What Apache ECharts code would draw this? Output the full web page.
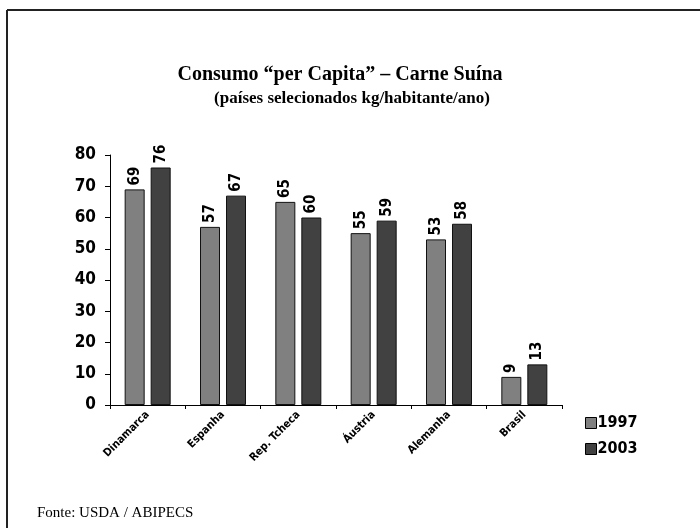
<!DOCTYPE html>
<html>
<head>
<meta charset="utf-8">
<script src="https://cdn.jsdelivr.net/npm/echarts@6/dist/echarts.min.js"></script>
<style>
html, body { margin: 0; padding: 0; background: #fff; }
#main { width: 700px; height: 528px; }
</style>
</head>
<body>
<div id="main"></div>
<script>
var paises = ['Dinamarca', 'Espanha', 'Rep. Tcheca', 'Áustria', 'Alemanha', 'Brasil'];
var v1997 = [69, 57, 65, 55, 53, 9];
var v2003 = [76, 67, 60, 59, 58, 13];

var myChart = echarts.init(document.getElementById('main'));

var fonteEixo = 'DejaVu Sans Condensed, DejaVu Sans';

var rotuloBarra = {
    show: true,
    position: 'top',
    rotate: 90,
    align: 'left',
    verticalAlign: 'middle',
    distance: 4,
    fontFamily: fonteEixo,
    fontWeight: 'bold',
    fontSize: 15,
    color: '#000'
};

var option = {
    backgroundColor: '#fff',
    animation: false,
    title: [
        {
            text: 'Consumo \u201cper Capita\u201d \u2013 Carne Su\u00edna',
            left: 340, top: 65, textAlign: 'center', padding: 0,
            textStyle: { fontFamily: 'Liberation Serif', fontSize: 20, fontWeight: 'bold', color: '#000' }
        },
        {
            text: '(pa\u00edses selecionados kg/habitante/ano)',
            left: 352, top: 90, textAlign: 'center', padding: 0,
            textStyle: { fontFamily: 'Liberation Serif', fontSize: 17, fontWeight: 'bold', color: '#000' }
        },
        {
            text: 'Fonte: USDA / ABIPECS',
            left: 37, top: 506, padding: 0,
            textStyle: { fontFamily: 'Liberation Serif', fontSize: 15, fontWeight: 'normal', color: '#000' }
        }
    ],
    legend: {
        orient: 'vertical',
        left: 580, top: 410,
        icon: 'rect',
        itemWidth: 11, itemHeight: 11,
        itemGap: 10,
        itemStyle: { borderColor: '#000', borderWidth: 1 },
        textStyle: { fontFamily: fonteEixo, fontWeight: 'bold', fontSize: 16, color: '#000', padding: [0, 0, 0, -4] },
        data: ['1997', '2003']
    },
    grid: { left: 110, right: 138, top: 155, bottom: 123 },
    xAxis: {
        type: 'category',
        data: paises,
        axisLine: { lineStyle: { color: '#000', width: 1 } },
        axisTick: { show: true, alignWithLabel: false, length: 4, lineStyle: { color: '#000' } },
        axisLabel: {
            interval: 0, rotate: 45, margin: 8,
            fontFamily: fonteEixo, fontWeight: 'bold', fontSize: 11, color: '#000'
        }
    },
    yAxis: {
        type: 'value',
        min: 0, max: 80, interval: 10,
        splitLine: { show: false },
        axisLine: { show: true, lineStyle: { color: '#000', width: 1 } },
        axisTick: { show: true, length: 5, inside: false, lineStyle: { color: '#000' } },
        axisLabel: { fontFamily: fonteEixo, fontWeight: 'bold', fontSize: 17, color: '#000', margin: 14 }
    },
    series: [
        {
            name: '1997', type: 'bar',
            data: v1997,
            barWidth: 20, barGap: '30%',
            itemStyle: { color: '#808080', borderColor: '#111', borderWidth: 1 },
            label: rotuloBarra
        },
        {
            name: '2003', type: 'bar',
            data: v2003,
            barWidth: 20,
            itemStyle: { color: '#414141', borderColor: '#111', borderWidth: 1 },
            label: rotuloBarra
        }
    ],
    graphic: [
        { type: 'line', shape: { x1: 7, y1: 10, x2: 700, y2: 10 }, style: { stroke: '#222', lineWidth: 2 } },
        { type: 'line', shape: { x1: 7, y1: 10, x2: 7, y2: 528 }, style: { stroke: '#222', lineWidth: 2 } }
    ]
};

myChart.setOption(option);
</script>
</body>
</html>
